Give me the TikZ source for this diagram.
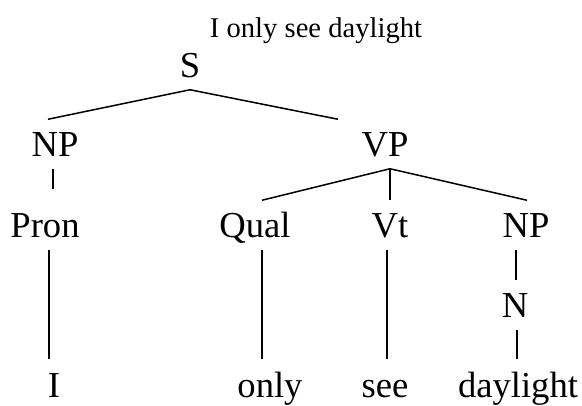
\documentclass[tikz,border=0pt]{standalone}
\usepackage{fontspec}
\setmainfont{Liberation Serif}

\begin{document}
\begin{tikzpicture}[x=1pt, y=-1pt, line width=1.5pt]
            \tikzstyle{cat} = [anchor=base, inner xsep=0pt, inner ysep=12pt, text height=24pt, text depth=0pt, font=\fontsize{36.6}{40}\selectfont];
            \tikzstyle{leaf} = [cat, inner ysep=0pt, text height=37pt];
            \tikzstyle{caption} = [anchor=base, inner sep=0pt, font=\fontsize{28.6}{32}\selectfont];
            \useasboundingbox (0,0) rectangle (582,405);

            \node [caption] (title) at (316,37) {I only see daylight};

            \node [cat] (S) at (190,77) {S};
            \node [cat] (NP1) at (55,156) {NP};
            \node [cat] (VP) at (385,156) {VP};
            \node [cat] (Pron) at (45,237) {Pron};
            \node [cat] (Qual) at (255,237) {Qual};
            \node [cat] (Vt) at (390,237) {Vt};
            \node [cat] (NP2) at (526,237) {NP};
            \node [cat] (N) at (515,317) {N};
            \node [leaf] (I) at (54,397) {I};
            \node [leaf] (only) at (270,397) {only};
            \node [leaf] (see) at (385,397) {see};
            \node [leaf] (daylight) at (518,397) {daylight};

            \draw (S.south) -- ([xshift=-7pt]NP1.north);
            \draw (S.south) -- ([xshift=-47pt]VP.north);
            \draw [shorten >=11pt] ([xshift=-2pt]NP1.south) -- ([xshift=-2pt]NP1.south |- Pron.north);
            \foreach \d/\s in {Qual/7pt, Vt/0pt, NP2/1pt}
                \draw ([xshift=5pt]VP.south) -- ([xshift=\s]\d.north);

            \draw ([xshift=4pt]Pron.south) -- ([xshift=4pt]Pron.south |- I.north);
            \draw ([xshift=7pt]Qual.south) -- ([xshift=7pt]Qual.south |- only.north);
            \draw ([xshift=-3pt]Vt.south) -- ([xshift=-3pt]Vt.south |- see.north);
            \draw ([xshift=-10pt]NP2.south) -- ([xshift=-10pt]NP2.south |- N.north);
            \draw ([xshift=2pt]N.south) -- ([xshift=2pt]N.south |- daylight.north);

        \end{tikzpicture}
\end{document}
